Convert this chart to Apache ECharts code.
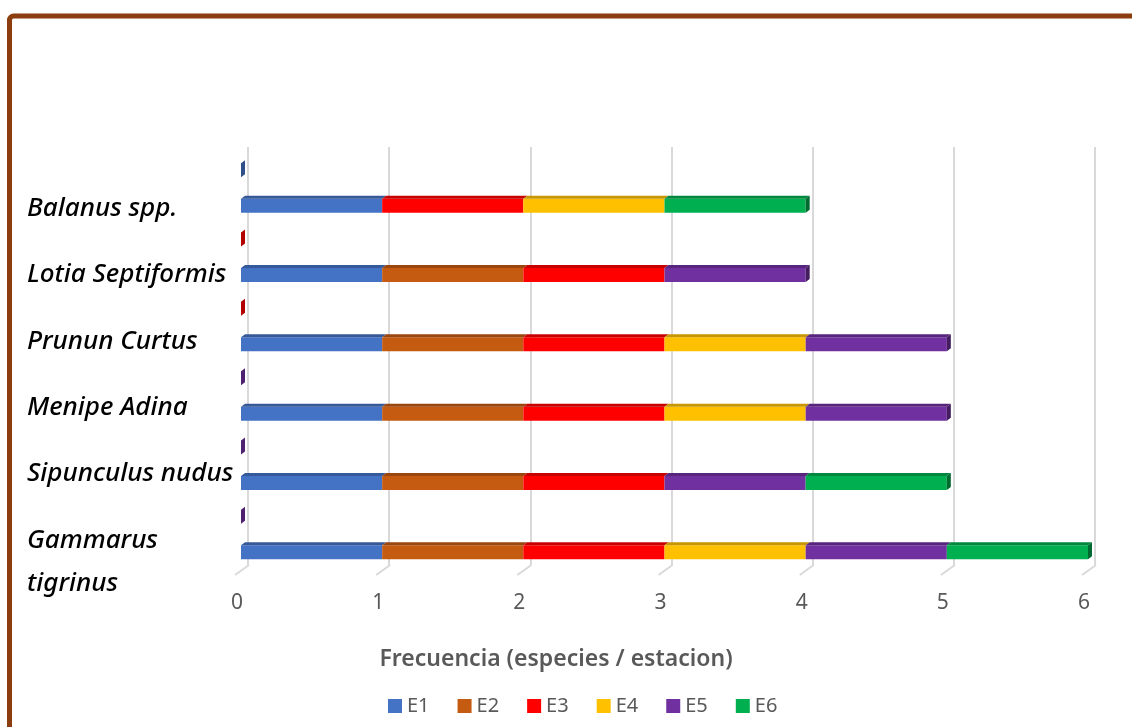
<!DOCTYPE html>
<html>
<head>
<meta charset="utf-8">
<script src="https://cdn.jsdelivr.net/npm/echarts@6/dist/echarts.min.js"></script>
<style>
  html, body { margin: 0; padding: 0; background: #ffffff; }
  #chart { width: 1132px; height: 727px; }
</style>
</head>
<body>
<div id="chart"></div>
<script>
// Species, bottom row first
const categoryLabels = ['Gammarus\ntigrinus', 'Sipunculus nudus', 'Menipe Adina', 'Prunun Curtus', 'Lotia Septiformis', 'Balanus spp.'];

// Presence per station (1 = found)
const seriesNames = ['E1', 'E2', 'E3', 'E4', 'E5', 'E6'];
const seriesColors = ['#4472C4', '#C55A11', '#FF0000', '#FFC000', '#7030A0', '#00B050'];
const e1 = [1, 1, 1, 1, 1, 1];
const e2 = [1, 1, 1, 1, 1, 0];
const e3 = [1, 1, 1, 1, 1, 1];
const e4 = [1, 0, 1, 1, 0, 1];
const e5 = [1, 1, 1, 1, 1, 0];
const e6 = [1, 1, 0, 0, 0, 1];
const stationValues = [e1, e2, e3, e4, e5, e6];

// x axis ticks
const xTicks = [0, 1, 2, 3, 4, 5, 6];

// empty second row of each category: zero-length bars, and which station colour they carry
const emptyRowValues = [0, 0, 0, 0, 0, 0];
const emptyRowStation = [4, 4, 4, 2, 2, 0];

function shade(hex, f) {
  const n = parseInt(hex.slice(1), 16);
  const r = Math.round(((n >> 16) & 255) * f);
  const g = Math.round(((n >> 8) & 255) * f);
  const b = Math.round((n & 255) * f);
  return 'rgb(' + r + ',' + g + ',' + b + ')';
}

const FACE_H = 14;   // front face height
const DEPTH_X = 4;   // perspective offset of the top / end faces
const DEPTH_Y = 3;

// cumulative stacks
const totals = categoryLabels.map((_, i) => stationValues.reduce((s, arr) => s + arr[i], 0));

function segmentData(k) {
  return categoryLabels.map((_, i) => {
    let start = 0;
    for (let j = 0; j < k; j++) start += stationValues[j][i];
    const end = start + stationValues[k][i];
    const last = (stationValues[k][i] > 0 && end === totals[i]) ? 1 : 0;
    return [start, end, i, last];
  });
}

function renderSegment(params, api) {
  const start = api.value(0), end = api.value(1), cat = api.value(2), last = api.value(3);
  if (!(end > start)) return null;
  const color = api.visual('color');
  const p0 = api.coord([start, cat]);
  const p1 = api.coord([end, cat]);
  const yTop = p0[1] - FACE_H / 2;
  const yBot = p0[1] + FACE_H / 2;
  const x0 = p0[0], x1 = p1[0];
  const children = [
    { type: 'rect', shape: { x: x0, y: yTop, width: x1 - x0, height: FACE_H }, style: { fill: color } },
    { type: 'polygon', shape: { points: [[x0, yTop], [x0 + DEPTH_X, yTop - DEPTH_Y], [x1 + DEPTH_X, yTop - DEPTH_Y], [x1, yTop]] },
      style: { fill: shade(color, 0.78) } }
  ];
  if (last) {
    children.push({ type: 'polygon', shape: { points: [[x1, yTop], [x1 + DEPTH_X, yTop - DEPTH_Y], [x1 + DEPTH_X, yBot - DEPTH_Y], [x1, yBot]] },
      style: { fill: shade(color, 0.6) } });
  }
  return { type: 'group', children: children };
}

function renderEmptyRow(params, api) {
  const v = api.value(0), cat = api.value(1), idx = api.value(2);
  const p = api.coord([v, cat]);
  const yc = p[1] - 35.5;
  const yTop = yc - FACE_H / 2, yBot = yc + FACE_H / 2;
  const x = p[0];
  return {
    type: 'polygon',
    shape: { points: [[x, yTop], [x + DEPTH_X, yTop - DEPTH_Y], [x + DEPTH_X, yBot - DEPTH_Y], [x, yBot]] },
    style: { fill: shade(seriesColors[idx], 0.7) }
  };
}

function renderFloorTick(params, api) {
  const p = api.coord([api.value(0), 0]);
  return {
    type: 'line',
    shape: { x1: p[0] + 1, y1: p[1], x2: p[0] - 13, y2: p[1] + 10 },
    style: { stroke: '#D9D9D9', lineWidth: 2 }
  };
}

const FONT = 'Noto Sans';

const series = seriesNames.map((name, k) => ({
  name: name,
  type: 'custom',
  xAxisIndex: 0,
  yAxisIndex: 0,
  itemStyle: { color: seriesColors[k] },
  encode: { x: [0, 1], y: 2 },
  renderItem: renderSegment,
  data: segmentData(k),
  z: 3
}));

series.push({
  name: 'empty',
  type: 'custom',
  xAxisIndex: 0,
  yAxisIndex: 0,
  encode: { x: 0, y: 1 },
  renderItem: renderEmptyRow,
  data: emptyRowValues.map((v, i) => [v, i, emptyRowStation[i]]),
  silent: true,
  z: 3
});

series.push({
  name: 'floor',
  type: 'custom',
  xAxisIndex: 1,
  yAxisIndex: 1,
  encode: { x: 0, y: 1 },
  renderItem: renderFloorTick,
  data: xTicks.map(v => [v, 0]),
  silent: true,
  z: 1
});

const chart = echarts.init(document.getElementById('chart'), null, { renderer: 'canvas' });

chart.setOption({
  animation: false,
  backgroundColor: '#ffffff',
  color: seriesColors,
  grid: [
    { left: 241, right: 44, top: 171, bottom: 140 },   // bars
    { left: 248, right: 37, top: 147, bottom: 162 },   // back wall
    { left: 240, right: 40, top: 154, bottom: 175 }    // category names
  ],
  xAxis: [
    {
      gridIndex: 0, type: 'value', min: 0, max: 6, interval: 1,
      axisLine: { show: false }, axisTick: { show: false }, splitLine: { show: false },
      axisLabel: { margin: 6, fontSize: 21, color: '#595959', fontFamily: FONT, padding: [0, 8, 0, 0] }
    },
    {
      gridIndex: 1, type: 'value', min: 0, max: 6, interval: 1,
      axisLine: { show: false }, axisTick: { show: false }, axisLabel: { show: false },
      splitLine: { show: true, lineStyle: { color: '#D9D9D9', width: 2 } }
    },
    { gridIndex: 2, type: 'value', show: false }
  ],
  yAxis: [
    {
      gridIndex: 0, type: 'category', data: categoryLabels,
      axisLine: { show: false }, axisTick: { show: false }, axisLabel: { show: false }
    },
    { gridIndex: 1, type: 'value', min: 0, max: 1, show: false },
    {
      gridIndex: 2, type: 'category', data: categoryLabels,
      axisLine: { show: false }, axisTick: { show: false },
      axisLabel: {
        align: 'left', margin: 213, verticalAlign: 'top', lineHeight: 43,
        fontSize: 26, fontStyle: 'italic', fontWeight: 500, color: '#000000', fontFamily: FONT
      }
    }
  ],
  legend: {
    data: seriesNames,
    left: 388, top: 696,
    itemWidth: 14, itemHeight: 14, itemGap: 28,
    icon: 'rect', padding: 0,
    textStyle: { fontSize: 20, color: '#595959', fontFamily: FONT }
  },
  graphic: [
    {
      type: 'rect', silent: true,
      shape: { x: 9.5, y: 16, width: 1300, height: 900, r: 4 },
      style: { fill: 'none', stroke: '#8B3D0F', lineWidth: 5 }
    },
    {
      type: 'text', silent: true, x: 556, y: 659,
      style: {
        text: 'Frecuencia (especies / estacion)', align: 'center', verticalAlign: 'middle',
        font: '600 23px "Noto Sans"', fill: '#595959'
      }
    }
  ],
  series: series
});
</script>
</body>
</html>
